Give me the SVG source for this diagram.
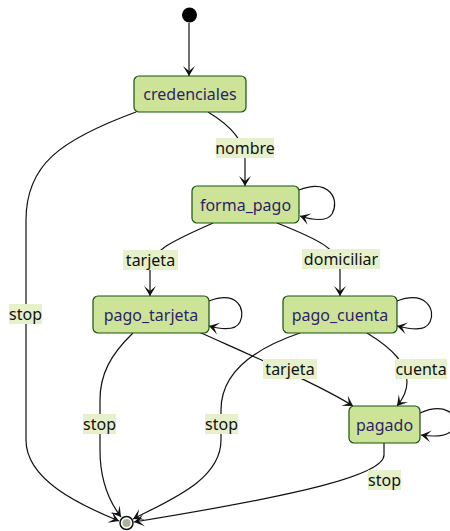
<svg xmlns="http://www.w3.org/2000/svg" width="450" height="531" viewBox="0 0 450 531">
<style>
.node rect{fill:#cde498;stroke:#13540c;stroke-width:1.2}
.node text{font-family:"Noto Sans","Open Sans",sans-serif;font-size:16px;fill:#2e1f66;text-anchor:middle;dominant-baseline:central}
.edges path{fill:none;stroke:#111;stroke-width:1.2}
.lbl rect{fill:#e6f1cb}
.lbl text{font-family:"Noto Sans","Open Sans",sans-serif;font-size:16px;fill:#111;text-anchor:middle;dominant-baseline:central}
</style>
<defs>
<marker id="barb" viewBox="0 0 20 14" refX="19" refY="7" markerWidth="20" markerHeight="14" markerUnits="userSpaceOnUse" orient="auto">
<path d="M19,7 L9,13 L14,7 L9,1 Z" fill="#111"/>
</marker>
</defs>
<g id="edges" class="edges">
<path d="M189,23 L189,76" marker-end="url(#barb)"/>
<path d="M208,112 C228,124 245,140 245,160 L245,186" marker-end="url(#barb)"/>
<path d="M136,112 C60,140 26,165 26,220 L26,440 C26,480 80,505 119,521" marker-end="url(#barb)"/>
<path d="M299,190 C330,178 340,200 332,214 C327,222 312,220 300,216" marker-end="url(#barb)"/>
<path d="M213,223 C175,240 150,250 150,270 L150,296" marker-end="url(#barb)"/>
<path d="M277,223 C320,240 340,250 340,270 L340,296" marker-end="url(#barb)"/>
<path d="M209,301 C238,290 246,310 240,322 C235,332 220,329 209,326" marker-end="url(#barb)"/>
<path d="M397,301 C426,290 436,310 430,322 C425,332 410,329 397,326" marker-end="url(#barb)"/>
<path d="M199,332 C250,355 320,385 353,406" marker-end="url(#barb)"/>
<path d="M367,333 C395,350 407,365 407,382 C407,392 402,400 397,406" marker-end="url(#barb)"/>
<path d="M420,413 C445,402 458,415 455,425 C452,437 435,437 421,435" marker-end="url(#barb)"/>
<path d="M133,333 C110,355 100,375 100,400 L100,450 C100,480 108,500 121,517" marker-end="url(#barb)"/>
<path d="M300,333 C250,350 221,375 221,410 L221,440 C221,480 170,500 133,519" marker-end="url(#barb)"/>
<path d="M384,443 L384,455 C384,475 300,495 134,522" marker-end="url(#barb)"/>
</g>
<g id="labels">
<g class="lbl"><rect x="216" y="138" width="58" height="20"/><text x="245" y="148">nombre</text></g>
<g class="lbl"><rect x="9" y="304" width="33" height="20"/><text x="25.5" y="314">stop</text></g>
<g class="lbl"><rect x="123" y="250" width="55" height="20"/><text x="150.5" y="260">tarjeta</text></g>
<g class="lbl"><rect x="302" y="249" width="78" height="20"/><text x="341" y="259">domiciliar</text></g>
<g class="lbl"><rect x="263" y="359" width="54" height="20"/><text x="290" y="369">tarjeta</text></g>
<g class="lbl"><rect x="395" y="359" width="52" height="20"/><text x="421" y="369">cuenta</text></g>
<g class="lbl"><rect x="83" y="414" width="33" height="20"/><text x="99.5" y="424">stop</text></g>
<g class="lbl"><rect x="205" y="414" width="33" height="20"/><text x="221.5" y="424">stop</text></g>
<g class="lbl"><rect x="368" y="470" width="33" height="20"/><text x="384.5" y="480">stop</text></g>
</g>
<g id="start"><circle cx="189.5" cy="15" r="7.5" fill="#000"/></g>
<g id="credenciales" class="node"><rect x="134" y="76" width="112" height="36" rx="5"/><text x="190" y="94">credenciales</text></g>
<g id="forma_pago" class="node"><rect x="192" y="186" width="107" height="37" rx="5"/><text x="245.5" y="204.5">forma_pago</text></g>
<g id="pago_tarjeta" class="node"><rect x="93" y="296" width="116" height="37" rx="5"/><text x="151" y="314.5">pago_tarjeta</text></g>
<g id="pago_cuenta" class="node"><rect x="283" y="296" width="114" height="37" rx="5"/><text x="340" y="314.5">pago_cuenta</text></g>
<g id="pagado" class="node"><rect x="349" y="406" width="71" height="37" rx="5"/><text x="384.5" y="424.5">pagado</text></g>
<g id="end"><circle cx="126.5" cy="523" r="6.5" fill="#fff" stroke="#111" stroke-width="1.5"/><circle cx="126.5" cy="523" r="4" fill="#a8b596"/></g>
</svg>
